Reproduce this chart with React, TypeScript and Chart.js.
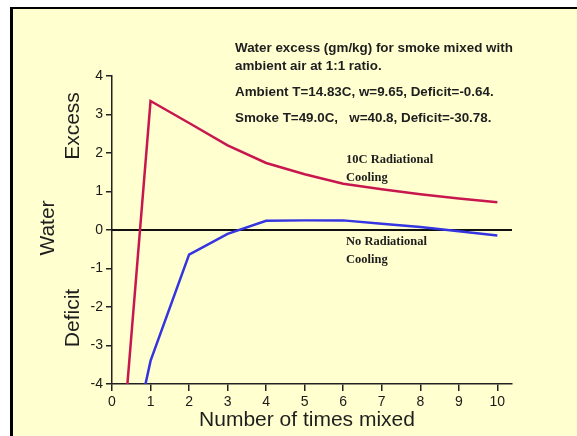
import React, { useEffect, useRef } from "react";
import { Chart, registerables } from "chart.js";

Chart.register(...registerables);

const timesMixed = [0, 1, 2, 3, 4, 5, 6, 7, 8, 9, 10];
const radiationalCooling = [-8.9, 3.35, 2.78, 2.2, 1.74, 1.45, 1.2, 1.06, 0.93, 0.82, 0.72];
const noRadiationalCooling = [-8.0, -3.4, -0.64, -0.1, 0.24, 0.25, 0.25, 0.16, 0.08, -0.03, -0.14];
const xTickValues = [0, 1, 2, 3, 4, 5, 6, 7, 8, 9, 10];
const zeroLineX = [0, 10.38];
const zeroLineY = [0, 0];
const titleLines = [
  "Water excess (gm/kg) for smoke mixed with",
  "ambient air at 1:1 ratio.",
  "Ambient T=14.83C, w=9.65, Deficit=-0.64.",
  "Smoke T=49.0C,   w=40.8, Deficit=-30.78.",
];
const coolingLabel = ["10C Radiational", "Cooling"];
const noCoolingLabel = ["No Radiational", "Cooling"];
const xTitle = "Number of times mixed";
const yTitle = "Water";
const yTitleUpper = "Excess";
const yTitleLower = "Deficit";

const textPlugin = {
  id: "textPlugin",
  afterDraw(chart: any) {
    const ctx = chart.ctx as CanvasRenderingContext2D;
    ctx.save();
    ctx.fillStyle = "#1e1e1e";
    ctx.textBaseline = "middle";
    ctx.textAlign = "left";
    ctx.font = "bold 13.4px 'Liberation Sans', Arial, sans-serif";
    const ty = [48, 66, 92, 118];
    titleLines.forEach((t, i) => ctx.fillText(t, 235, ty[i]));

    ctx.font = "bold 12.5px 'Liberation Serif', 'Times New Roman', serif";
    ctx.fillText(coolingLabel[0], 346, 160);
    ctx.fillText(coolingLabel[1], 346, 178);
    ctx.fillText(noCoolingLabel[0], 346, 242);
    ctx.fillText(noCoolingLabel[1], 346, 260);

    ctx.font = "21px 'Liberation Sans', Arial, sans-serif";
    ctx.textAlign = "center";
    ctx.fillText(xTitle, 307, 420);

    const rot = (t: string, x: number, y: number) => {
      ctx.save();
      ctx.translate(x, y);
      ctx.rotate(-Math.PI / 2);
      ctx.fillText(t, 0, 0);
      ctx.restore();
    };
    rot(yTitle, 48, 228);
    rot(yTitleUpper, 73, 126);
    rot(yTitleLower, 73, 318);
    ctx.restore();
  },
};

export default function App() {
  const ref = useRef<HTMLCanvasElement>(null);
  useEffect(() => {
    if (!ref.current) return;
    const tickFont = { family: "'Liberation Sans', Arial, sans-serif", size: 14 };
    const chart = new Chart(ref.current, {
      type: "line",
      data: {
        datasets: [
          {
            label: "10C Radiational Cooling",
            data: timesMixed.map((x, i) => ({ x, y: radiationalCooling[i] })),
            borderColor: "#c8174f",
            borderWidth: 2.5,
            pointRadius: 0,
            tension: 0,
          },
          {
            label: "No Radiational Cooling",
            data: timesMixed.map((x, i) => ({ x, y: noRadiationalCooling[i] })),
            borderColor: "#3434e0",
            borderWidth: 2.5,
            pointRadius: 0,
            tension: 0,
          },
          {
            label: "zero",
            data: zeroLineX.map((x, i) => ({ x, y: zeroLineY[i] })),
            borderColor: "#111",
            borderWidth: 2,
            pointRadius: 0,
          },
        ],
      },
      options: {
        animation: false,
        responsive: false,
        devicePixelRatio: 1,
        layout: { padding: { left: 0, right: 65, top: 76, bottom: 0 } },
        plugins: { legend: { display: false }, tooltip: { enabled: false } },
        scales: {
          x: {
            type: "linear",
            min: 0,
            max: 10.38,
            afterFit: (s: any) => {
              s.height = 52;
            },
            afterBuildTicks: (s: any) => {
              s.ticks = xTickValues.map((v) => ({ value: v }));
            },
            ticks: { stepSize: 1, color: "#1a1a1a", font: tickFont, padding: 3, maxRotation: 0, autoSkip: false },
            grid: { drawOnChartArea: false, drawTicks: true, tickLength: 7, color: "#222", lineWidth: 1.5 },
            border: { display: true, color: "#222", width: 1.5 },
          },
          y: {
            type: "linear",
            min: -4,
            max: 4,
            afterFit: (s: any) => {
              s.width = 112;
            },
            ticks: { stepSize: 1, color: "#1a1a1a", font: tickFont, padding: 3 },
            grid: { drawOnChartArea: false, drawTicks: true, tickLength: 6, color: "#222", lineWidth: 1.5 },
            border: { display: true, color: "#222", width: 1.5 },
          },
        },
      },
      plugins: [textPlugin],
    });
    return () => chart.destroy();
  }, []);

  return (
    <div style={{ position: "fixed", left: 0, top: 0, width: 577, height: 436, background: "#fff", overflow: "hidden" }}>
      <div
        style={{
          position: "absolute",
          left: 10,
          top: 7,
          right: -10,
          bottom: -10,
          background: "#ffffd0",
          borderTop: "2.5px solid #000",
          borderLeft: "3px solid #000",
        }}
      />
      <canvas ref={ref} width={577} height={436} style={{ position: "absolute", left: 0, top: 0 }} />
    </div>
  );
}
